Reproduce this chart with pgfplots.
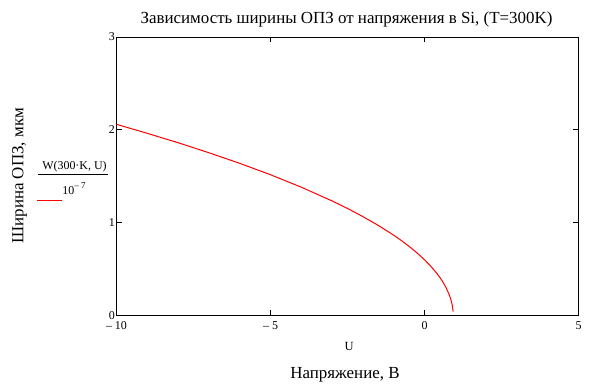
\documentclass[border=0pt]{standalone}
\usepackage{fontspec}
\setmainfont{Liberation Serif}
\usepackage{pgfplots}
\pgfplotsset{compat=1.18}
\begin{document}
\begin{tikzpicture}
\useasboundingbox (-116.5bp,-72.3bp) rectangle (479.5bp,315.7bp);
\begin{axis}[
  scale only axis,
  width=462.2bp, height=278.7bp,
  at={(0,0)}, anchor=south west,
  xmin=-10, xmax=5, ymin=0, ymax=3,
  xtick={-10,-5,0,5}, xticklabels={– 10,– 5,0,5},
  ytick={0,1,2,3},
  tick align=inside,
  major tick length=5.5bp,
  axis line style={line width=0.9bp, black},
  every tick/.style={line width=0.9bp, black},
  /pgf/number format/assume math mode=true,
  xticklabel style={font=\fontsize{12}{12}\selectfont, inner sep=1bp, yshift=-5bp},
  yticklabel style={font=\fontsize{12}{12}\selectfont, inner sep=1.5bp},
  clip=false,
]
\addplot[red, line width=1bp] coordinates {
(-10,2.060) (-9,1.963) (-8,1.862) (-7,1.754) (-6,1.640) (-5,1.517)
(-4,1.383) (-3,1.235) (-2.5,1.154) (-2,1.066) (-1.5,0.971) (-1,0.866)
(-0.75,0.808) (-0.5,0.745) (-0.25,0.677) (0,0.601) (0.2,0.532)
(0.4,0.454) (0.5,0.409) (0.6,0.358) (0.7,0.299) (0.8,0.225)
(0.85,0.176) (0.9,0.108) (0.925,0.044)
};
\end{axis}
\node[anchor=base, font=\fontsize{17}{17}\selectfont, inner sep=0pt] at (230bp,291.7bp) {Зависимость ширины ОПЗ от напряжения в Si, (T=300K)};
\node[anchor=base, font=\fontsize{17}{17}\selectfont, inner sep=0pt] at (228.5bp,-62.6bp) {Напряжение, В};
\node[anchor=base, font=\fontsize{12.5}{12.5}\selectfont, inner sep=0pt] at (232.5bp,-34.3bp) {U};
\node[anchor=base, rotate=90, font=\fontsize{17}{17}\selectfont, inner sep=0pt] at (-93.2bp,139.9bp) {Ширина ОПЗ, мкм};
\node[anchor=base, font=\fontsize{12}{12}\selectfont, inner sep=0pt] at (-42bp,145.7bp) {W(300·K, U)};
\draw[line width=0.8bp] (-78.5bp,141.7bp) -- (-8.5bp,141.7bp);
\node[anchor=base, font=\fontsize{12}{12}\selectfont, inner sep=0pt] at (-42.5bp,121.4bp) {10\raisebox{0.45em}{\fontsize{9}{9}\selectfont – 7}};
\draw[red, line width=1bp] (-79.5bp,115bp) -- (-54.5bp,115bp);
\end{tikzpicture}
\end{document}
